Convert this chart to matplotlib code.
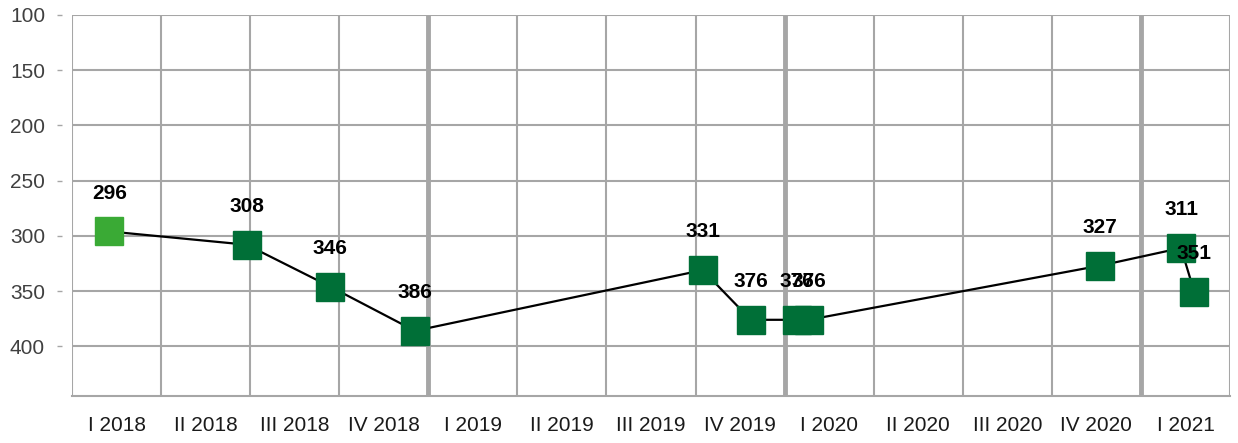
import numpy as np
import matplotlib
matplotlib.use("Agg")
from matplotlib import pyplot as plt

plt.rcParams['font.family'] = ['Liberation Sans', 'DejaVu Sans']

# -----------------------------------------------
# DATA
quarters = ['I 2018', 'II 2018', 'III 2018', 'IV 2018',
            'I 2019', 'II 2019', 'III 2019', 'IV 2019',
            'I 2020', 'II 2020', 'III 2020', 'IV 2020', 'I 2021']
# position of each point on the quarter axis (quarter index + fraction of quarter)
positions = [0.42, 1.96, 2.90, 3.85, 7.08, 7.62, 8.14, 8.27, 11.54, 12.45, 12.60]
values = [296, 308, 346, 386, 331, 376, 376, 376, 327, 311, 351]
year_bounds = [4, 8, 12]

# -----------------------------------------------
# STYLE
grid_col = '#a6a6a6'
dark_green = '#006f37'
light_green = '#3aaa35'

fig = plt.figure(figsize=(12.38, 4.43), dpi=100)
ax = fig.add_axes([72/1238, 1 - 396/443, (1230-72)/1238, (396-15)/443])

ax.set_xlim(0, len(quarters))
ax.set_ylim(445, 100)

# horizontal grid
yt = np.arange(100, 401, 50)
ax.set_yticks(yt)
ax.set_yticklabels([str(v) for v in yt])
for v in yt:
  ax.axhline(v, color=grid_col, lw=1.5, zorder=0)

# vertical grid at quarter boundaries
for b in range(len(quarters) + 1):
  ax.axvline(b, color=grid_col, lw=1.5, zorder=0)
for b in year_bounds:
  ax.axvline(b, color=grid_col, lw=3.5, zorder=0)

ax.set_xticks(np.arange(len(quarters)) + 0.5)
ax.set_xticklabels(quarters)

for s in ['top', 'right']:
  ax.spines[s].set_visible(False)
ax.spines['bottom'].set_color(grid_col)
ax.spines['bottom'].set_linewidth(1.5)
ax.spines['left'].set_position(('outward', 7.2))
ax.spines['left'].set_visible(False)

ax.tick_params(axis='y', length=3.6, width=1.0, color=grid_col, pad=8.6,
               labelsize=15, labelcolor='#404040')
ax.tick_params(axis='x', length=0, pad=14.5, labelsize=15, labelcolor='#1a1a1a')

# line and markers
ax.plot(positions, values, color='black', lw=1.6, zorder=2)
colors = [light_green] + [dark_green] * (len(values) - 1)
for xp, v, c in zip(positions, values, colors):
  ax.plot(xp, v, marker='s', ms=19.5, color=c, mec=c, zorder=3)
for xp, v in zip(positions, values):
  ax.annotate(str(v), (xp, v), xytext=(0, 27.5), textcoords='offset points',
              ha='center', va='center', fontsize=15, fontweight='bold',
              color='black', zorder=4)

fig.savefig('out.png', dpi=100)
